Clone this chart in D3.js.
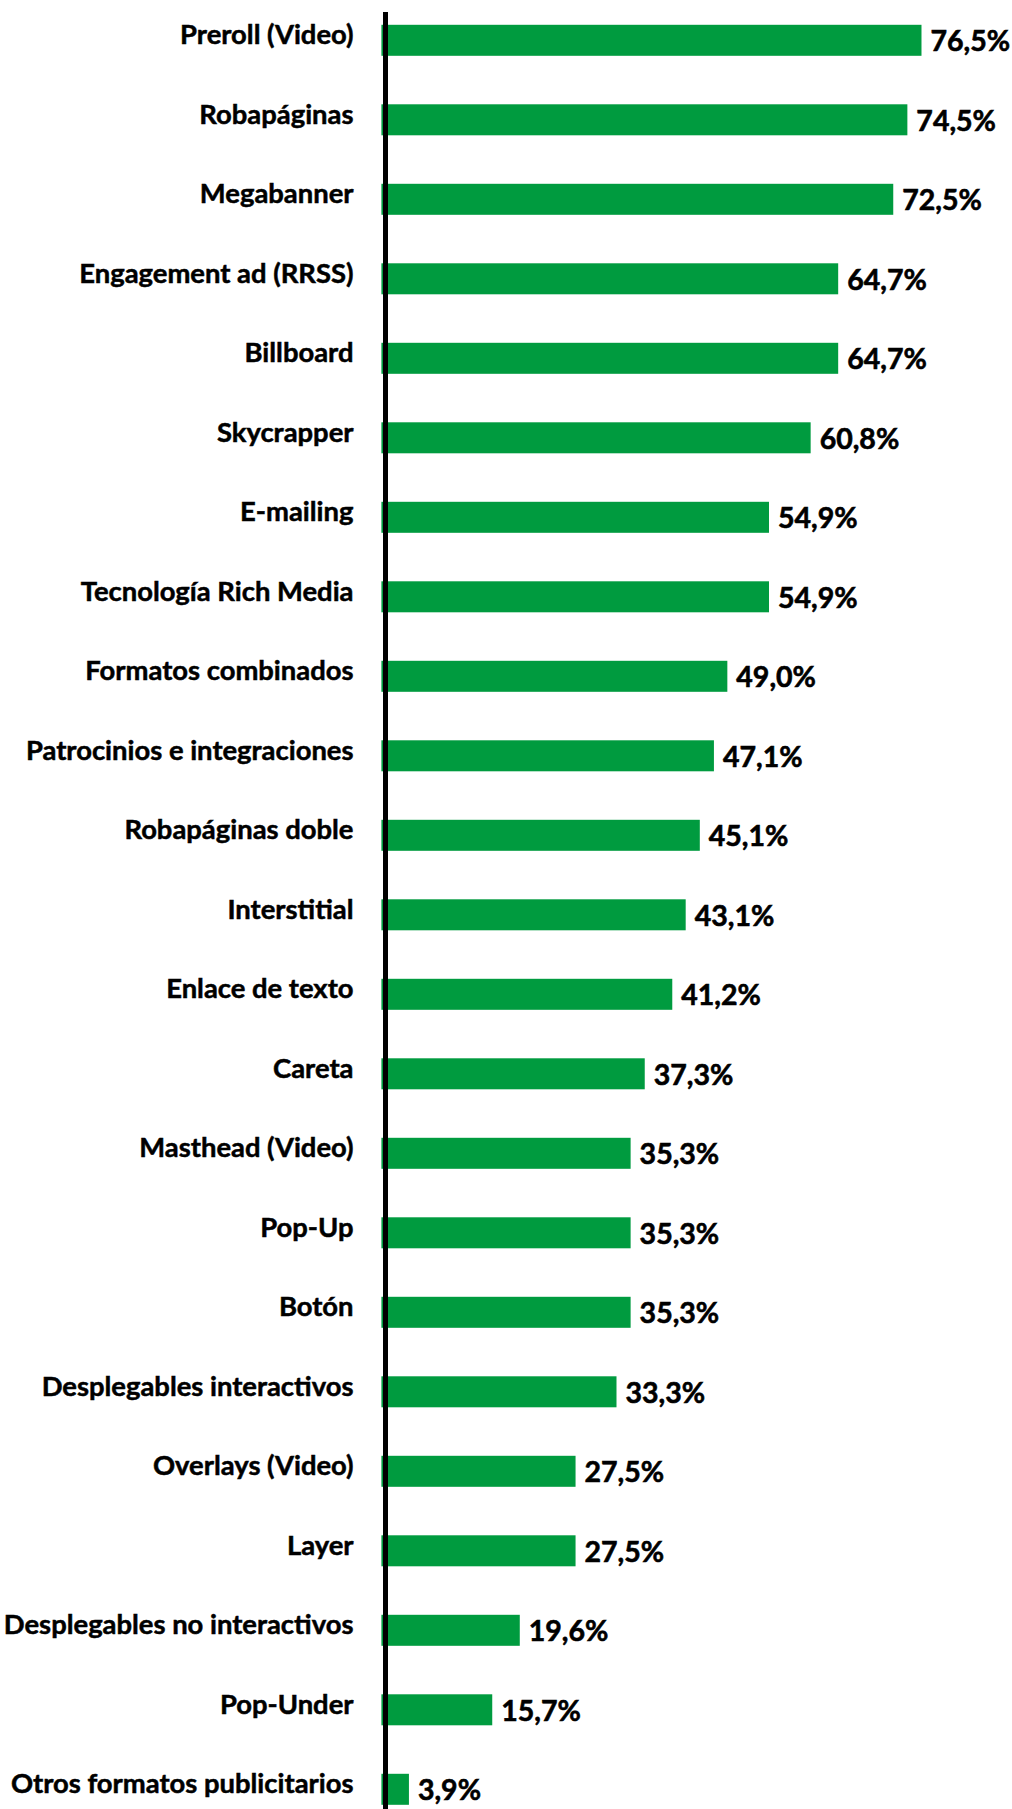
<!DOCTYPE html>
<html>
<head>
<meta charset="utf-8">
<script src="https://cdn.jsdelivr.net/npm/d3@7"></script>
<style>
html,body{margin:0;padding:0;background:#fff;}
svg{display:block;}
</style>
</head>
<body>
<script>
const categories = [
  "Preroll (Video)", "Robapáginas", "Megabanner", "Engagement ad (RRSS)", "Billboard",
  "Skycrapper", "E-mailing", "Tecnología Rich Media", "Formatos combinados",
  "Patrocinios e integraciones", "Robapáginas doble", "Interstitial", "Enlace de texto",
  "Careta", "Masthead (Video)", "Pop-Up", "Botón", "Desplegables interactivos",
  "Overlays (Video)", "Layer", "Desplegables no interactivos", "Pop-Under",
  "Otros formatos publicitarios"
];
const values = [76.5, 74.5, 72.5, 64.7, 64.7, 60.8, 54.9, 54.9, 49.0, 47.1, 45.1, 43.1, 41.2,
  37.3, 35.3, 35.3, 35.3, 33.3, 27.5, 27.5, 19.6, 15.7, 3.9];
const valueLabels = values.map(v => v.toFixed(1).replace(".", ",") + "%");

const W = 1012, H = 1809;
const data = categories.map((c, i) => ({ c, v: values[i], label: valueLabels[i] }));

const svg = d3.select("body").append("svg").attr("width", W).attr("height", H);

const x = d3.scaleLinear().domain([0, 100]).range([381.4, 381.4 + 706]);
const y = d3.scaleBand().domain(categories)
  .range([40.3 - 79.5 / 2, 40.3 + 79.5 * 22 + 79.5 / 2])
  .paddingInner(0.61).paddingOuter(0.305);

svg.selectAll("rect.bar").data(data).join("rect")
  .attr("class", "bar")
  .attr("x", x(0))
  .attr("y", d => y(d.c))
  .attr("width", d => x(d.v) - x(0))
  .attr("height", y.bandwidth())
  .attr("fill", "#009b3f");

svg.selectAll("text.val").data(data).join("text")
  .attr("class", "val")
  .attr("x", d => x(d.v) + 9)
  .attr("y", d => y(d.c) + y.bandwidth() / 2 + 11)
  .attr("font-family", "Lato, 'Open Sans', sans-serif")
  .attr("font-weight", 700)
  .attr("font-size", 28.5)
  .attr("fill", "#000")
  .attr("stroke", "#000")
  .attr("stroke-width", 0.6)
  .text(d => d.label);

const yAxis = svg.append("g").attr("transform", "translate(385.5,0)")
  .call(d3.axisLeft(y).tickSize(0).tickPadding(32));
yAxis.select(".domain").remove();
yAxis.selectAll("text")
  .attr("font-family", "Lato, 'Open Sans', sans-serif")
  .attr("font-weight", 700)
  .attr("font-size", 27.4)
  .attr("fill", "#000")
  .attr("stroke", "#000")
  .attr("stroke-width", 0.5)
  .attr("dy", null)
  .attr("y", 4);

svg.append("line")
  .attr("x1", 385.5).attr("x2", 385.5)
  .attr("y1", 12).attr("y2", H)
  .attr("stroke", "#000").attr("stroke-width", 5);
</script>
</body>
</html>
